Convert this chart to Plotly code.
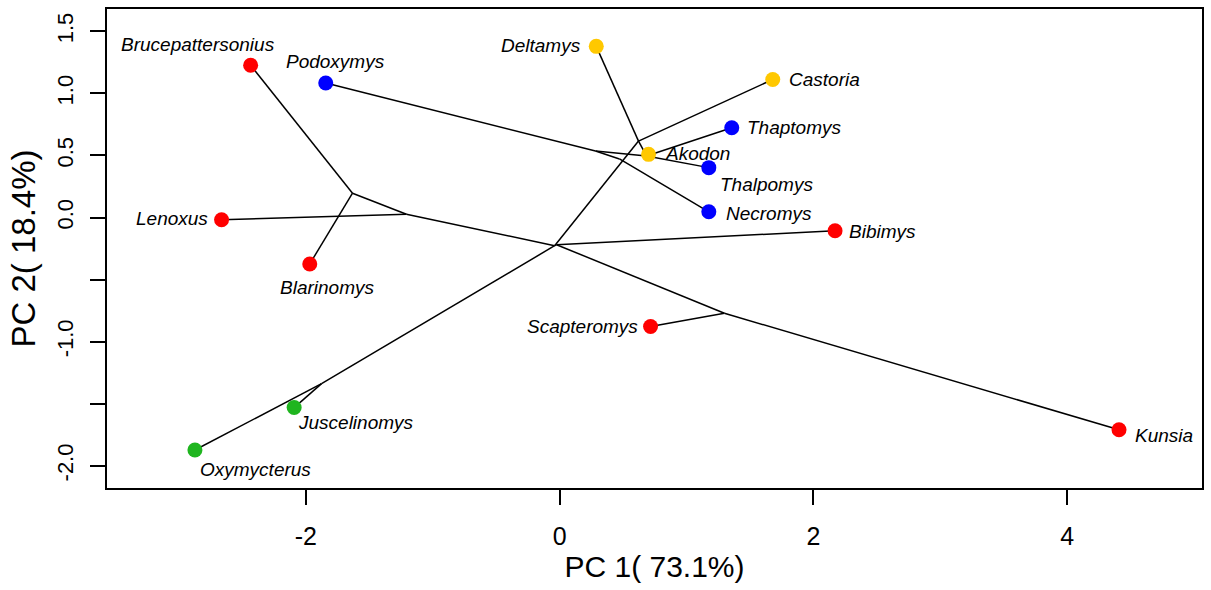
import plotly.graph_objects as go

# ---- tip taxa: scores on the first two principal components ----
taxa = ["Brucepattersonius", "Podoxymys", "Deltamys", "Castoria", "Thaptomys",
        "Akodon", "Thalpomys", "Necromys", "Bibimys", "Lenoxus", "Blarinomys",
        "Scapteromys", "Juscelinomys", "Oxymycterus", "Kunsia"]
pc1 = [-2.435, -1.843, 0.289, 1.680, 1.357, 0.701, 1.176, 1.176, 2.171,
       -2.664, -1.969, 0.717, -2.092, -2.874, 4.409]
pc2 = [1.227, 1.084, 1.379, 1.112, 0.723, 0.509, 0.402, 0.046, -0.107,
       -0.018, -0.374, -0.878, -1.531, -1.873, -1.710]
group = ["red", "blue", "yellow", "yellow", "blue", "yellow", "blue", "blue",
         "red", "red", "red", "red", "green", "green", "red"]

# ---- reconstructed ancestral nodes ----
nodes = ["n1", "n2", "root", "nB", "nSK", "nOJ", "nU", "nA", "nP", "nN"]
node_pc1 = [-1.632, -1.207, -0.039, -0.024, 1.299, -1.876, 0.622, 0.685, 0.283, 0.472]
node_pc2 = [0.196, 0.027, -0.227, -0.219, -0.771, -1.338, 0.616, 0.496, 0.536, 0.472]

# ---- tree edges (parent, child) ----
edge_parent = ["root", "root", "root", "root", "nB", "nB", "nSK", "nSK",
               "n2", "n2", "n1", "n1", "nOJ", "nOJ",
               "nU", "nU", "nU", "nA", "nA", "nA", "nA", "nP", "nP", "nN"]
edge_child = ["n2", "nOJ", "nU", "nB", "Bibimys", "nSK", "Scapteromys", "Kunsia",
              "n1", "Lenoxus", "Brucepattersonius", "Blarinomys", "Oxymycterus", "Juscelinomys",
              "Deltamys", "Castoria", "nA", "Akodon", "Thaptomys", "Thalpomys", "nP",
              "Podoxymys", "nN", "Necromys"]

palette = {"red": "#FF0000", "blue": "#0000FF", "yellow": "#FFC800", "green": "#1FB51F"}

coords = {n: (x, y) for n, x, y in zip(taxa, pc1, pc2)}
coords.update({n: (x, y) for n, x, y in zip(nodes, node_pc1, node_pc2)})

ex, ey = [], []
for p, c in zip(edge_parent, edge_child):
    ex += [coords[p][0], coords[c][0], None]
    ey += [coords[p][1], coords[c][1], None]

fig = go.Figure()
fig.add_trace(go.Scatter(x=ex, y=ey, mode="lines",
                         line=dict(color="black", width=1.5),
                         hoverinfo="skip", showlegend=False))
fig.add_trace(go.Scatter(x=pc1, y=pc2, mode="markers", text=taxa,
                         marker=dict(size=15, color=[palette[g] for g in group],
                                     line=dict(width=0)),
                         hoverinfo="text", showlegend=False))

# label placement: (xanchor, xshift px, yshift px)
label_style = {
    "Brucepattersonius": ("center", -53, 21),
    "Podoxymys": ("center", 10, 21),
    "Deltamys": ("right", -13, 1),
    "Castoria": ("left", 14, 0),
    "Thaptomys": ("left", 13, 0),
    "Akodon": ("left", 14, 1),
    "Thalpomys": ("left", 9, -17),
    "Necromys": ("left", 15, -2),
    "Bibimys": ("left", 12, -1),
    "Lenoxus": ("right", -12, 1),
    "Blarinomys": ("center", 17, -24),
    "Scapteromys": ("right", -11, 0),
    "Juscelinomys": ("left", 2, -15),
    "Oxymycterus": ("left", 3, -19),
    "Kunsia": ("left", 14, -6),
}
for name, x, y in zip(taxa, pc1, pc2):
    anchor, dx, dy = label_style[name]
    fig.add_annotation(x=x, y=y, text=name, showarrow=False,
                       xanchor=anchor, yanchor="middle", xshift=dx, yshift=dy,
                       font=dict(family="Liberation Sans, Arial, sans-serif",
                                 size=19, color="black", style="italic"))

axis_font = "Liberation Sans, Arial, sans-serif"
narrow_font = "Liberation Sans Narrow, Arial Narrow, Liberation Sans, Arial, sans-serif"
fig.update_xaxes(range=[-3.567, 5.063], tickvals=[-2, 0, 2, 4],
                 ticktext=["-2", "0", "2", "4"],
                 showgrid=False, zeroline=False,
                 showline=True, mirror=True, linecolor="black", linewidth=1.5,
                 ticks="outside", ticklen=15, tickwidth=1.5, tickcolor="black",
                 ticklabelstandoff=10,
                 tickfont=dict(family=narrow_font, size=25, color="black"),
                 title=dict(text="PC 1( 73.1%)", standoff=6,
                            font=dict(family=narrow_font, size=30, color="black")))
fig.update_yaxes(range=[-2.179, 1.680],
                 tickvals=[-2, -1.5, -1, -0.5, 0, 0.5, 1, 1.5],
                 ticktext=["-2.0", "", "-1.0", "", "0.0", "0.5", "1.0", "1.5"],
                 tickangle=-90,
                 showgrid=False, zeroline=False,
                 showline=True, mirror=True, linecolor="black", linewidth=1.5,
                 ticks="outside", ticklen=15, tickwidth=1.5, tickcolor="black",
                 ticklabelstandoff=8,
                 tickfont=dict(family=axis_font, size=22, color="black"),
                 title=dict(text="PC 2( 18.4%)", standoff=8,
                            font=dict(family=axis_font, size=33, color="black")))

fig.update_layout(width=1211, height=590,
                  margin=dict(l=107, r=8, t=7, b=102),
                  plot_bgcolor="white", paper_bgcolor="white")

fig.write_html("out.html")
